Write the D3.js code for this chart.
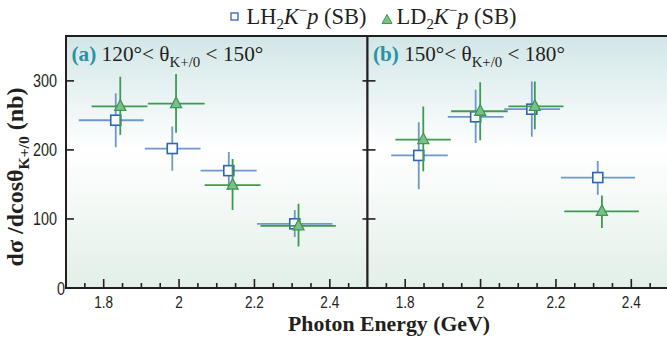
<!DOCTYPE html>
<html><head><meta charset="utf-8">
<script src="https://cdn.jsdelivr.net/npm/d3@7"></script>
<style>body{margin:0;background:#fff}svg{display:block}</style>
</head><body><svg id="c" width="667" height="343"></svg>
<script>
// ---- data ----
const panels = ["a", "b"];
const panelRanges = [["120°", "150°"], ["150°", "180°"]];
const xTicks = [1.8, 2.0, 2.2, 2.4];
const xTickLabels = ["1.8", "2", "2.2", "2.4"];
const yTicks = [0, 100, 200, 300];
// LH2 K-p (SB)  [E, Elo, Ehi, sigma, sigLo, sigHi]
const lh2_a_E   = [1.832, 1.982, 2.132, 2.307];
const lh2_a_Elo = [1.734, 1.909, 2.057, 2.207];
const lh2_a_Ehi = [1.906, 2.057, 2.206, 2.407];
const lh2_a_S   = [243, 202, 170, 93];
const lh2_a_Slo = [204, 170, 142, 74];
const lh2_a_Shi = [282, 234, 197, 113];
const ld2_a_E   = [1.844, 1.992, 2.142, 2.317];
const ld2_a_Elo = [1.768, 1.917, 2.068, 2.216];
const ld2_a_Ehi = [1.916, 2.068, 2.216, 2.416];
const ld2_a_S   = [263, 267, 149, 90];
const ld2_a_Slo = [222, 225, 113, 60];
const ld2_a_Shi = [306, 310, 187, 122];
const lh2_b_E   = [1.836, 1.987, 2.136, 2.311];
const lh2_b_Elo = [1.763, 1.913, 2.063, 2.213];
const lh2_b_Ehi = [1.913, 2.061, 2.211, 2.410];
const lh2_b_S   = [192, 248, 259, 160];
const lh2_b_Slo = [143, 210, 219, 135];
const lh2_b_Shi = [240, 287, 299, 184];
const ld2_b_E   = [1.848, 1.999, 2.144, 2.322];
const ld2_b_Elo = [1.774, 1.922, 2.074, 2.222];
const ld2_b_Ehi = [1.921, 2.072, 2.220, 2.420];
const ld2_b_S   = [215, 256, 263, 111];
const ld2_b_Slo = [169, 214, 230, 87];
const ld2_b_Shi = [263, 298, 299, 134];

function rows(E, Elo, Ehi, S, Slo, Shi){ return E.map((e,i)=>({e, elo:Elo[i], ehi:Ehi[i], s:S[i], slo:Slo[i], shi:Shi[i]})); }
const series = {
  a: {lh2: rows(lh2_a_E,lh2_a_Elo,lh2_a_Ehi,lh2_a_S,lh2_a_Slo,lh2_a_Shi), ld2: rows(ld2_a_E,ld2_a_Elo,ld2_a_Ehi,ld2_a_S,ld2_a_Slo,ld2_a_Shi)},
  b: {lh2: rows(lh2_b_E,lh2_b_Elo,lh2_b_Ehi,lh2_b_S,lh2_b_Slo,lh2_b_Shi), ld2: rows(ld2_b_E,ld2_b_Elo,ld2_b_Ehi,ld2_b_S,ld2_b_Slo,ld2_b_Shi)}
};

// ---- layout ----
const svg = d3.select("#c");
const yTop = 36, yBot = 288, xLeft = 66, xMid = 367.5, xRight = 667;
const y = d3.scaleLinear().domain([0, 365]).range([yBot, yTop]);
const xs = [d3.scaleLinear().domain([1.7, 2.5]).range([xLeft, xMid]),
            d3.scaleLinear().domain([1.7, 2.5]).range([xMid, xMid + (xMid-xLeft)])];
const ink = "#231f20";
const serif = "'Liberation Serif','Times New Roman',serif";
const sans = "'Liberation Sans',Arial,sans-serif";
const blue = "#2b67b1", blueBar = "#6e98cd", green = "#3d9a50", greenFill = "#7cbf8c";
const narrowK = 0.8;

const defs = svg.append("defs");
const grad = defs.append("linearGradient").attr("id","bg").attr("x1",0).attr("y1",0).attr("x2",0).attr("y2",1);
grad.append("stop").attr("offset","0%").attr("stop-color","#d2e6e7");
grad.append("stop").attr("offset","45%").attr("stop-color","#ffffff");
grad.append("stop").attr("offset","100%").attr("stop-color","#e2efe8");

// fit a text element to a target width by scaling font size
function fitWidth(sel, target){
  const w = sel.node().getBBox().width;
  if (w > 0) {
    const k = target / w;
    const fs = parseFloat(sel.attr("font-size"));
    sel.attr("font-size", fs * k);
    sel.selectAll("tspan").each(function(){ const t = d3.select(this); const f = t.attr("font-size"); if (f) t.attr("font-size", parseFloat(f)*k); const dy = t.attr("dy"); if (dy) t.attr("dy", parseFloat(dy)*k); });
  }
}

panels.forEach((p, pi) => {
  const x = xs[pi];
  const x0 = x.range()[0], x1 = Math.min(x.range()[1], xRight);
  const pg = svg.append("g");
  pg.append("rect").attr("x", x0).attr("y", yTop).attr("width", x1 - x0).attr("height", yBot - yTop).attr("fill", "url(#bg)");
  const clip = defs.append("clipPath").attr("id","clip"+p);
  clip.append("rect").attr("x", x0).attr("y", yTop).attr("width", x1-x0).attr("height", yBot-yTop);
  // minor x ticks
  const minor = d3.range(1.75, 2.5, 0.05).map(v => +v.toFixed(2));
  pg.selectAll(".mt").data(minor).join("line")
    .attr("x1", d=>x(d)).attr("x2", d=>x(d)).attr("y1", yBot).attr("y2", d => xTicks.some(t=>Math.abs(t-d)<1e-6) ? yBot-9 : yBot-5)
    .attr("stroke", ink).attr("stroke-width", 1.6);
  // y ticks inward
  pg.selectAll(".yt").data(yTicks.slice(1)).join("line")
    .attr("x1", x0).attr("x2", x0 + 8).attr("y1", d=>y(d)).attr("y2", d=>y(d))
    .attr("stroke", ink).attr("stroke-width", 1.6);
  if (pi === 0) {
    pg.selectAll(".yt2").data(yTicks.slice(1)).join("line")
      .attr("x1", x1).attr("x2", x1 - 5).attr("y1", d=>y(d)).attr("y2", d=>y(d))
      .attr("stroke", ink).attr("stroke-width", 1.6);
    pg.selectAll(".yl").data(yTicks).join("text")
      .attr("transform", d => `translate(${d === 0 ? x0 - 1 : x0 - 9},${y(d) + 6.5}) scale(${narrowK},1)`)
      .attr("text-anchor","end").attr("font-family", sans).attr("font-size", 18).attr("fill", ink)
      .text(d=>d);
  }
  // x tick labels
  pg.selectAll(".xl").data(xTicks).join("text")
    .attr("transform", d => `translate(${x(d)},${yBot + 20}) scale(${narrowK},1)`)
    .attr("text-anchor","middle")
    .attr("font-family", sans).attr("font-size", 17).attr("fill", ink)
    .text((d,i)=>xTickLabels[i]);

  // data
  const dg = pg.append("g").attr("clip-path", `url(#clip${p})`);
  const drawSeries = (data, barColor, kind) => {
    const sg = dg.append("g");
    sg.selectAll(".h").data(data).join("line")
      .attr("x1", d=>x(d.elo)).attr("x2", d=>x(d.ehi)).attr("y1", d=>y(d.s)).attr("y2", d=>y(d.s))
      .attr("stroke", barColor).attr("stroke-width", 1.8);
    sg.selectAll(".v").data(data).join("line")
      .attr("x1", d=>x(d.e)).attr("x2", d=>x(d.e)).attr("y1", d=>y(d.slo)).attr("y2", d=>y(d.shi))
      .attr("stroke", barColor).attr("stroke-width", 1.8);
    if (kind === "sq") {
      sg.selectAll(".m").data(data).join("rect")
        .attr("x", d=>x(d.e)-5).attr("y", d=>y(d.s)-5).attr("width", 10).attr("height", 10)
        .attr("fill","#fff").attr("stroke", blue).attr("stroke-width", 1.6);
    } else {
      sg.selectAll(".m").data(data).join("path")
        .attr("d", d => { const cx = x(d.e), cy = y(d.s); return `M${cx},${cy-6.5}L${cx+5.5},${cy+4}L${cx-5.5},${cy+4}Z`; })
        .attr("fill", greenFill).attr("stroke", green).attr("stroke-width", 1.3);
    }
  };
  drawSeries(series[p].lh2, blueBar, "sq");
  drawSeries(series[p].ld2, green, "tri");

  // frame
  pg.append("path").attr("d", `M${x0},${yBot}V${yTop}H${x1}` + (pi===0 ? `V${yBot}` : ""))
    .attr("fill","none").attr("stroke", ink).attr("stroke-width", 2);
  pg.append("line").attr("x1", x0-1).attr("x2", x1).attr("y1", yBot).attr("y2", yBot).attr("stroke", ink).attr("stroke-width", 2.2);

  // panel label
  const t = pg.append("text").attr("x", x0 + 5.5).attr("y", yTop + 25).attr("font-family", serif).attr("font-size", 20).attr("fill", ink);
  t.append("tspan").attr("font-weight","bold").attr("fill","#2a91a3").text(`(${p})`);
  t.append("tspan").text(` ${panelRanges[pi][0]}< θ`);
  t.append("tspan").attr("font-size", 14).attr("dy", 6).text("K+/0");
  t.append("tspan").attr("dy", -6).text(` < ${panelRanges[pi][1]}`);
  fitWidth(t, 192);
});

// y axis title
const yt = svg.append("text").attr("transform", `translate(23,177) rotate(-90)`)
  .attr("text-anchor","middle").attr("font-family", serif).attr("font-weight","bold").attr("font-size", 20).attr("fill", ink);
yt.append("tspan").text("dσ /dcosθ");
yt.append("tspan").attr("font-size", 13).attr("dy", 5).text("K+/0");
yt.append("tspan").attr("dy", -5).text(" (nb)");
fitWidth(yt, 179);

// x axis title
const xt = svg.append("text").attr("x", 389).attr("y", 331).attr("text-anchor","middle")
  .attr("font-family", serif).attr("font-weight","bold").attr("font-size", 22).attr("fill", ink)
  .text("Photon Energy (GeV)");
fitWidth(xt, 202);

// legend
const lg = svg.append("g");
lg.append("rect").attr("x", 231).attr("y", 13).attr("width", 7).attr("height", 7).attr("fill","#fff").attr("stroke", blue).attr("stroke-width", 1.3);
lg.append("path").attr("d", "M387,14.5L392,23.5L382,23.5Z").attr("fill", greenFill).attr("stroke", green).attr("stroke-width", 1);
[[246.5, "H"], [396.5, "D"]].forEach(([lx, el]) => {
  const t = lg.append("text").attr("x", lx).attr("y", 24).attr("font-family", serif).attr("font-size", 21).attr("fill", ink);
  t.append("tspan").text("L" + el);
  t.append("tspan").attr("font-size", 14).attr("dy", 5).text("2");
  t.append("tspan").attr("dy", -5).attr("font-style","italic").text("K");
  t.append("tspan").attr("font-size", 14).attr("dy", -8).text("−");
  t.append("tspan").attr("dy", 8).attr("font-style","italic").text("p");
  t.append("tspan").text(" (SB)");
  fitWidth(t, 120);
});
</script></body></html>
